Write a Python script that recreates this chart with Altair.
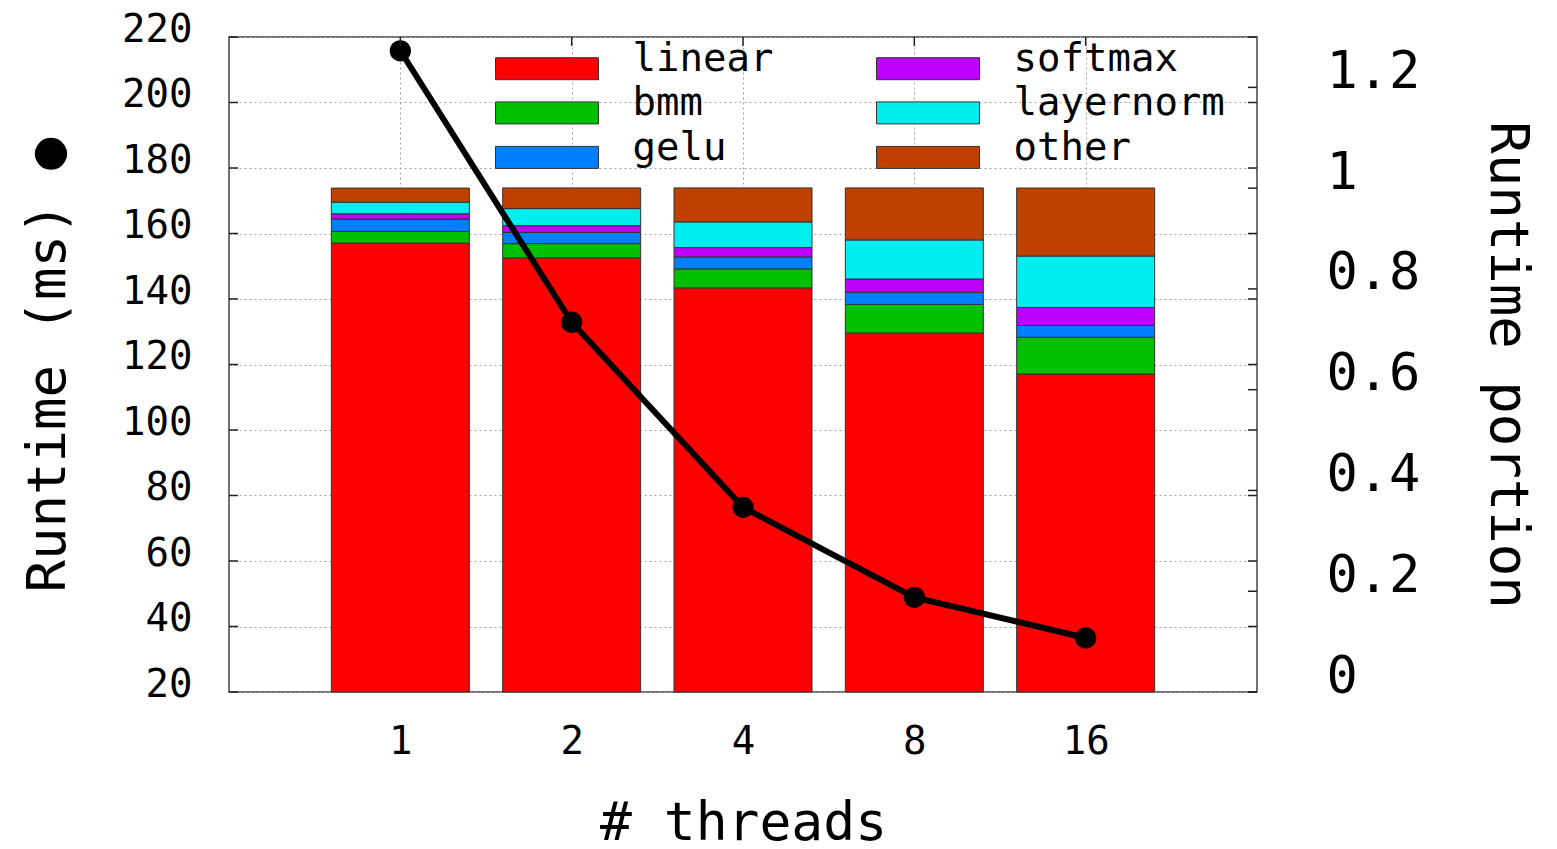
import altair as alt
import pandas as pd

# ---------------- data ----------------
threads = ["1", "2", "4", "8", "16"]
ops = ["linear", "bmm", "gelu", "softmax", "layernorm", "other"]
op_colors = ["#ff0000", "#00c000", "#0080ff", "#c000ff", "#00eeee", "#c04000"]
linear = [0.891, 0.8615, 0.802, 0.7125, 0.631]
bmm = [0.023, 0.0284, 0.0377, 0.0568, 0.0731]
gelu = [0.0246, 0.0224, 0.0238, 0.0238, 0.0234]
softmax = [0.0105, 0.0133, 0.0185, 0.0266, 0.0358]
layernorm = [0.0232, 0.0338, 0.051, 0.0775, 0.102]
other = [0.0278, 0.0411, 0.0675, 0.1033, 0.135]
runtime_ms = [215.8, 132.9, 76.4, 48.9, 36.5]
left_ticks = [20, 40, 60, 80, 100, 120, 140, 160, 180, 200, 220]
right_ticks = [0, 0.2, 0.4, 0.6, 0.8, 1.0, 1.2]

series = [linear, bmm, gelu, softmax, layernorm, other]
rows = []
for k, (op, vals) in enumerate(zip(ops, series)):
    for i, v in enumerate(vals):
        rows.append({"pos": i + 1, "op": op, "rank": k, "portion": v})
df_bars = pd.DataFrame(rows)
df_line = pd.DataFrame({"pos": list(range(1, len(threads) + 1)), "runtime": runtime_ms})
df_lt = pd.DataFrame({"v": left_ticks})
df_rt = pd.DataFrame({"v": right_ticks})
df_xt = pd.DataFrame({"pos": list(range(1, len(threads) + 1))})

W, H = 1028, 655
FONT = "DejaVu Sans Mono"

js_threads = "[" + ",".join("'%s'" % t for t in threads) + "]"
x_scale = alt.Scale(domain=[0, len(threads) + 1], nice=False, zero=False, padding=0)
x_axis = alt.Axis(
    values=list(range(1, len(threads) + 1)),
    labelExpr=js_threads + "[datum.value - 1]",
    grid=True, gridDash=[2, 3], gridColor="#a0a0a0", gridWidth=1,
    domain=False, ticks=False,
    labelFontSize=39, labelPadding=30,
    title="# threads", titleFontSize=53, titlePadding=36,
)
X = alt.X("pos:Q", scale=x_scale, axis=x_axis)

left_scale = alt.Scale(domain=[20, 220], nice=False, zero=False)
right_scale = alt.Scale(domain=[0, 1.3], nice=False, zero=True)

bars = alt.Chart(df_bars).mark_bar(size=138, stroke="#333333", strokeWidth=1).encode(
    x=X,
    y=alt.Y("portion:Q", stack="zero", scale=right_scale,
            axis=alt.Axis(orient="right", values=right_ticks,
                          labelExpr="format(datum.value, '.1~f')",
                          grid=False, domain=False, ticks=False,
                          labelFontSize=52, labelPadding=69, labelOffset=-16,
                          title="Runtime portion", titleFontSize=54,
                          titleAngle=90, titlePadding=60)),
    color=alt.Color("op:N", scale=alt.Scale(domain=ops, range=op_colors),
                    legend=alt.Legend(
                        title=None, orient="none", legendX=258, legendY=2,
                        columns=2, columnPadding=94, rowPadding=1.5, padding=0,
                        symbolType="M-4.68,-0.1L4.68,-0.1L4.68,1.9L-4.68,1.9Z",
                        symbolSize=484, symbolOffset=40.5,
                        symbolStrokeColor="#333333", symbolStrokeWidth=1,
                        symbolOpacity=1,
                        labelFontSize=39, labelFont=FONT, labelOffset=66,
                        labelLimit=0, labelColor="black")),
    order=alt.Order("rank:Q"),
)

line = alt.Chart(df_line).mark_line(color="black", strokeWidth=6).encode(
    x=X,
    y=alt.Y("runtime:Q", scale=left_scale,
            axis=alt.Axis(orient="left", values=left_ticks,
                          grid=True, gridDash=[2, 3], gridColor="#a0a0a0", gridWidth=1,
                          domain=False, ticks=False,
                          labelFontSize=39, labelPadding=37, labelOffset=-8,
                          title="Runtime (ms) \u25cf", titleFontSize=54, titlePadding=46)),
)

points = alt.Chart(df_line).mark_circle(color="black", size=452, opacity=1).encode(
    x=X,
    y=alt.Y("runtime:Q", scale=left_scale, axis=None),
)

tick_style = dict(color="#222222", strokeWidth=1.5)
lt_left = alt.Chart(df_lt).mark_rule(**tick_style).encode(
    y=alt.Y("v:Q", scale=left_scale, axis=None), x=alt.value(0), x2=alt.value(9))
lt_right = alt.Chart(df_lt).mark_rule(**tick_style).encode(
    y=alt.Y("v:Q", scale=left_scale, axis=None), x=alt.value(W - 9), x2=alt.value(W))
rt_right = alt.Chart(df_rt).mark_rule(**tick_style).encode(
    y=alt.Y("v:Q", scale=right_scale, axis=None), x=alt.value(W - 9), x2=alt.value(W))
xt_top = alt.Chart(df_xt).mark_rule(**tick_style).encode(
    x=X, y=alt.value(0), y2=alt.value(9))

chart = alt.layer(
    bars, line, points, lt_left, lt_right, rt_right, xt_top
).resolve_scale(y="independent").properties(
    width=W, height=H,
    padding={"left": 221, "top": 29, "right": 290, "bottom": 157},
    autosize=alt.AutoSizeParams(type="none"),
).configure_view(
    stroke="#444444", strokeWidth=1.5
).configure_axis(
    labelFont=FONT, titleFont=FONT, labelColor="black", titleColor="black",
    titleFontWeight="normal",
).configure_legend(
    labelFont=FONT
)

chart.save("out.html", embed_options={"renderer": "svg", "actions": False})
